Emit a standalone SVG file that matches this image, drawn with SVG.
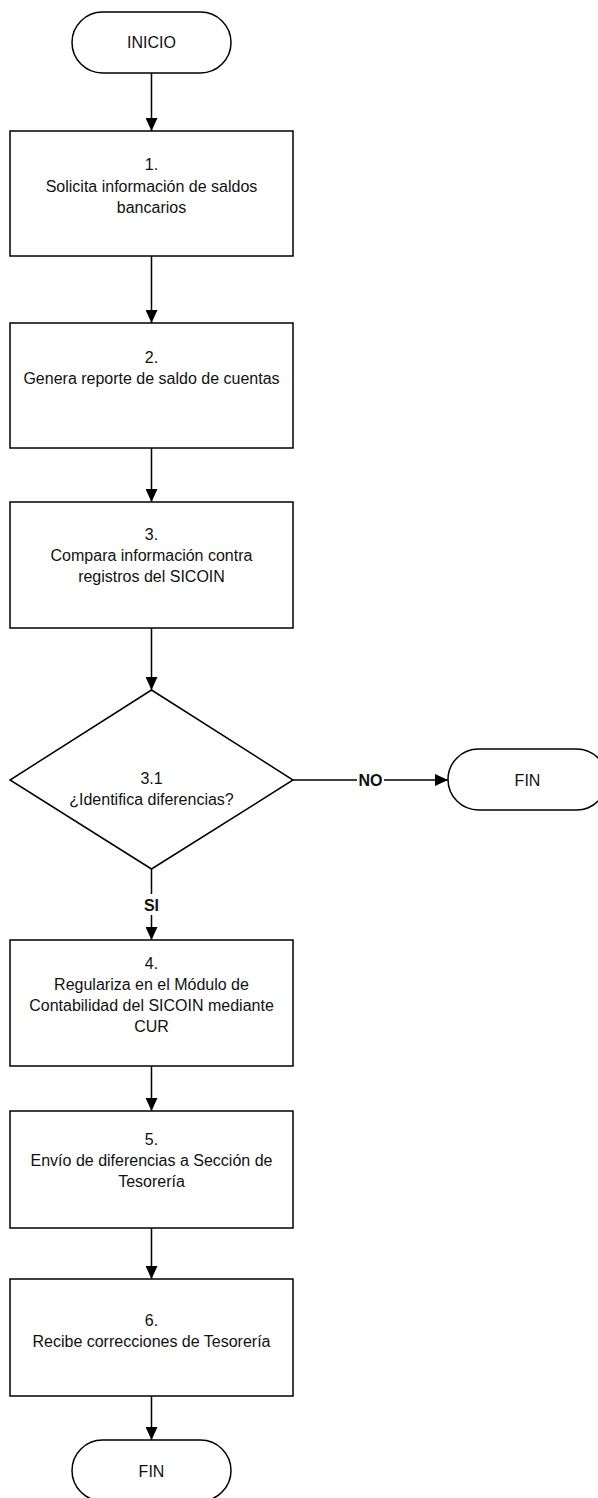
<svg xmlns="http://www.w3.org/2000/svg" width="598" height="1498" viewBox="0 0 598 1498">
  <style>
    .shape { fill: #ffffff; stroke: #000000; stroke-width: 1.5; }
    .line { fill: none; stroke: #000000; stroke-width: 1.5; }
    .txt { font-family: "Liberation Sans", Arial, sans-serif; font-size: 16px; fill: #111111; text-anchor: middle; }
    .lbl { font-family: "Liberation Sans", Arial, sans-serif; font-size: 16px; font-weight: bold; fill: #111111; text-anchor: middle; }
  </style>
  <defs>
    <marker id="arrow" markerUnits="userSpaceOnUse" markerWidth="13" markerHeight="12" viewBox="0 -6 13 12" refX="13" refY="0" orient="auto">
      <path d="M0,-6 L13,0 L0,6 z" fill="#000000"/>
    </marker>
  </defs>

  <g id="connectors">
    <line class="line" x1="151.5" y1="73" x2="151.5" y2="131" marker-end="url(#arrow)"/>
    <line class="line" x1="151.5" y1="256" x2="151.5" y2="323" marker-end="url(#arrow)"/>
    <line class="line" x1="151.5" y1="448" x2="151.5" y2="502" marker-end="url(#arrow)"/>
    <line class="line" x1="151.5" y1="628" x2="151.5" y2="690" marker-end="url(#arrow)"/>
    <g id="edge-si">
      <line class="line" x1="151.5" y1="869" x2="151.5" y2="940" marker-end="url(#arrow)"/>
      <rect x="138" y="894" width="27" height="21" fill="#ffffff"/>
      <text class="lbl" x="151.5" y="911">SI</text>
    </g>
    <g id="edge-no">
      <line class="line" x1="293" y1="780" x2="448" y2="780" marker-end="url(#arrow)"/>
      <rect x="357" y="770" width="27" height="20" fill="#ffffff"/>
      <text class="lbl" x="370.5" y="786">NO</text>
    </g>
    <line class="line" x1="151.5" y1="1066" x2="151.5" y2="1111" marker-end="url(#arrow)"/>
    <line class="line" x1="151.5" y1="1228" x2="151.5" y2="1279" marker-end="url(#arrow)"/>
    <line class="line" x1="151.5" y1="1396" x2="151.5" y2="1440" marker-end="url(#arrow)"/>
  </g>

  <g id="inicio">
    <rect class="shape" x="72" y="12" width="159" height="61" rx="30.5" ry="30.5"/>
    <text class="txt" x="151.5" y="48">INICIO</text>
  </g>

  <g id="step1">
    <rect class="shape" x="10" y="131" width="283" height="125"/>
    <text class="txt" x="151.5" y="170">1.</text>
    <text class="txt" x="151.5" y="191.5">Solicita información de saldos</text>
    <text class="txt" x="151.5" y="213">bancarios</text>
  </g>

  <g id="step2">
    <rect class="shape" x="10" y="323" width="283" height="125"/>
    <text class="txt" x="151.5" y="363">2.</text>
    <text class="txt" x="151.5" y="384">Genera reporte de saldo de cuentas</text>
  </g>

  <g id="step3">
    <rect class="shape" x="10" y="502" width="283" height="126"/>
    <text class="txt" x="151.5" y="540">3.</text>
    <text class="txt" x="151.5" y="561">Compara información contra</text>
    <text class="txt" x="151.5" y="582">registros del SICOIN</text>
  </g>

  <g id="decision31">
    <polygon class="shape" points="151.5,690 293,780 151.5,869 10,780"/>
    <text class="txt" x="151.5" y="784">3.1</text>
    <text class="txt" x="151.5" y="805">¿Identifica diferencias?</text>
  </g>

  <g id="fin-no">
    <rect class="shape" x="448" y="749" width="159" height="61" rx="30.5" ry="30.5"/>
    <text class="txt" x="527.5" y="785.5">FIN</text>
  </g>

  <g id="step4">
    <rect class="shape" x="10" y="940" width="283" height="126"/>
    <text class="txt" x="151.5" y="969">4.</text>
    <text class="txt" x="151.5" y="990">Regulariza en el Módulo de</text>
    <text class="txt" x="151.5" y="1011">Contabilidad del SICOIN mediante</text>
    <text class="txt" x="151.5" y="1032">CUR</text>
  </g>

  <g id="step5">
    <rect class="shape" x="10" y="1111" width="283" height="117"/>
    <text class="txt" x="151.5" y="1145">5.</text>
    <text class="txt" x="151.5" y="1166">Envío de diferencias a Sección de</text>
    <text class="txt" x="151.5" y="1187">Tesorería</text>
  </g>

  <g id="step6">
    <rect class="shape" x="10" y="1279" width="283" height="117"/>
    <text class="txt" x="151.5" y="1326">6.</text>
    <text class="txt" x="151.5" y="1347">Recibe correcciones de Tesorería</text>
  </g>

  <g id="fin">
    <rect class="shape" x="72" y="1440" width="159" height="61" rx="30.5" ry="30.5"/>
    <text class="txt" x="151.5" y="1477">FIN</text>
  </g>
</svg>
